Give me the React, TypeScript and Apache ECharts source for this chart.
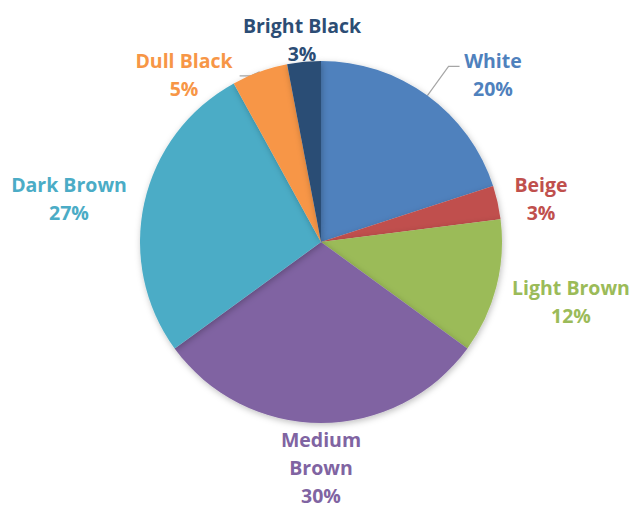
import React, { useEffect, useRef } from "react";
import * as echarts from "echarts";

const categories = ["White", "Beige", "Light Brown", "Medium Brown", "Dark Brown", "Dull Black", "Bright Black"];
const values = [20, 3, 12, 30, 27, 5, 3];
const labelNames = ["White", "Beige", "Light Brown", "Medium\nBrown", "Dark Brown", "Dull Black", "Bright Black"];
const colors = ["#4F81BD", "#C0504D", "#9BBB59", "#8064A2", "#4BACC6", "#F79646", "#2C4D75"];
const labelPos: [number, number][] = [
  [493, 74], [541, 198], [571, 301], [321, 467], [69, 198], [184, 74], [302, 39],
];
const lineLen = [36, 0, 0, 0, 0, 10, 0];
const lineLen2 = [11, 0, 0, 0, 0, 11, 0];

export default function App() {
  const ref = useRef<HTMLDivElement>(null);
  useEffect(() => {
    document.body.style.margin = "0";
    const chart = echarts.init(ref.current!, null, { renderer: "svg" });
    chart.setOption({
      animation: false,
      backgroundColor: "#ffffff",
      series: [
        {
          type: "pie",
          center: [321, 242],
          radius: 181,
          startAngle: 90,
          clockwise: true,
          data: categories.map((c, i) => ({
            name: c,
            value: values[i],
            itemStyle: { color: colors[i] },
            label: { color: colors[i] },
            labelLine: { show: lineLen[i] > 0 },
          })),
          itemStyle: {
            borderWidth: 0,
            shadowBlur: 6,
            shadowColor: "rgba(0,0,0,0.25)",
            shadowOffsetX: 1,
            shadowOffsetY: 2,
          },
          label: {
            show: true,
            position: "outside",
            fontFamily: "Open Sans",
            fontWeight: "bold",
            fontSize: 19.5,
            lineHeight: 28,
            align: "center",
            overflow: "none",
            formatter: (p: any) => `${labelNames[p.dataIndex]}\n${values[p.dataIndex]}%`,
          },
          labelLine: {
            show: true,
            length: 10,
            length2: 10,
            lineStyle: { color: "#A6A6A6", width: 1.2 },
          },
          labelLayout: (p: any) => {
            const i = p.dataIndex;
            const out: any = {
              x: labelPos[i][0],
              y: labelPos[i][1],
              align: "center",
              verticalAlign: "middle",
            };
            const pts = p.labelLinePoints;
            if (lineLen[i] > 0 && pts && pts.length >= 2) {
              const s = pts[0];
              const dx = pts[1][0] - s[0];
              const dy = pts[1][1] - s[1];
              const d = Math.sqrt(dx * dx + dy * dy) || 1;
              const m = [s[0] + (dx / d) * lineLen[i], s[1] + (dy / d) * lineLen[i]];
              const sign = dx >= 0 ? 1 : -1;
              const e = [m[0] + sign * lineLen2[i], m[1]];
              out.labelLinePoints = [s, m, e];
            }
            return out;
          },
        },
      ],
    });
    return () => chart.dispose();
  }, []);
  return <div ref={ref} style={{ width: 633, height: 507 }} />;
}
